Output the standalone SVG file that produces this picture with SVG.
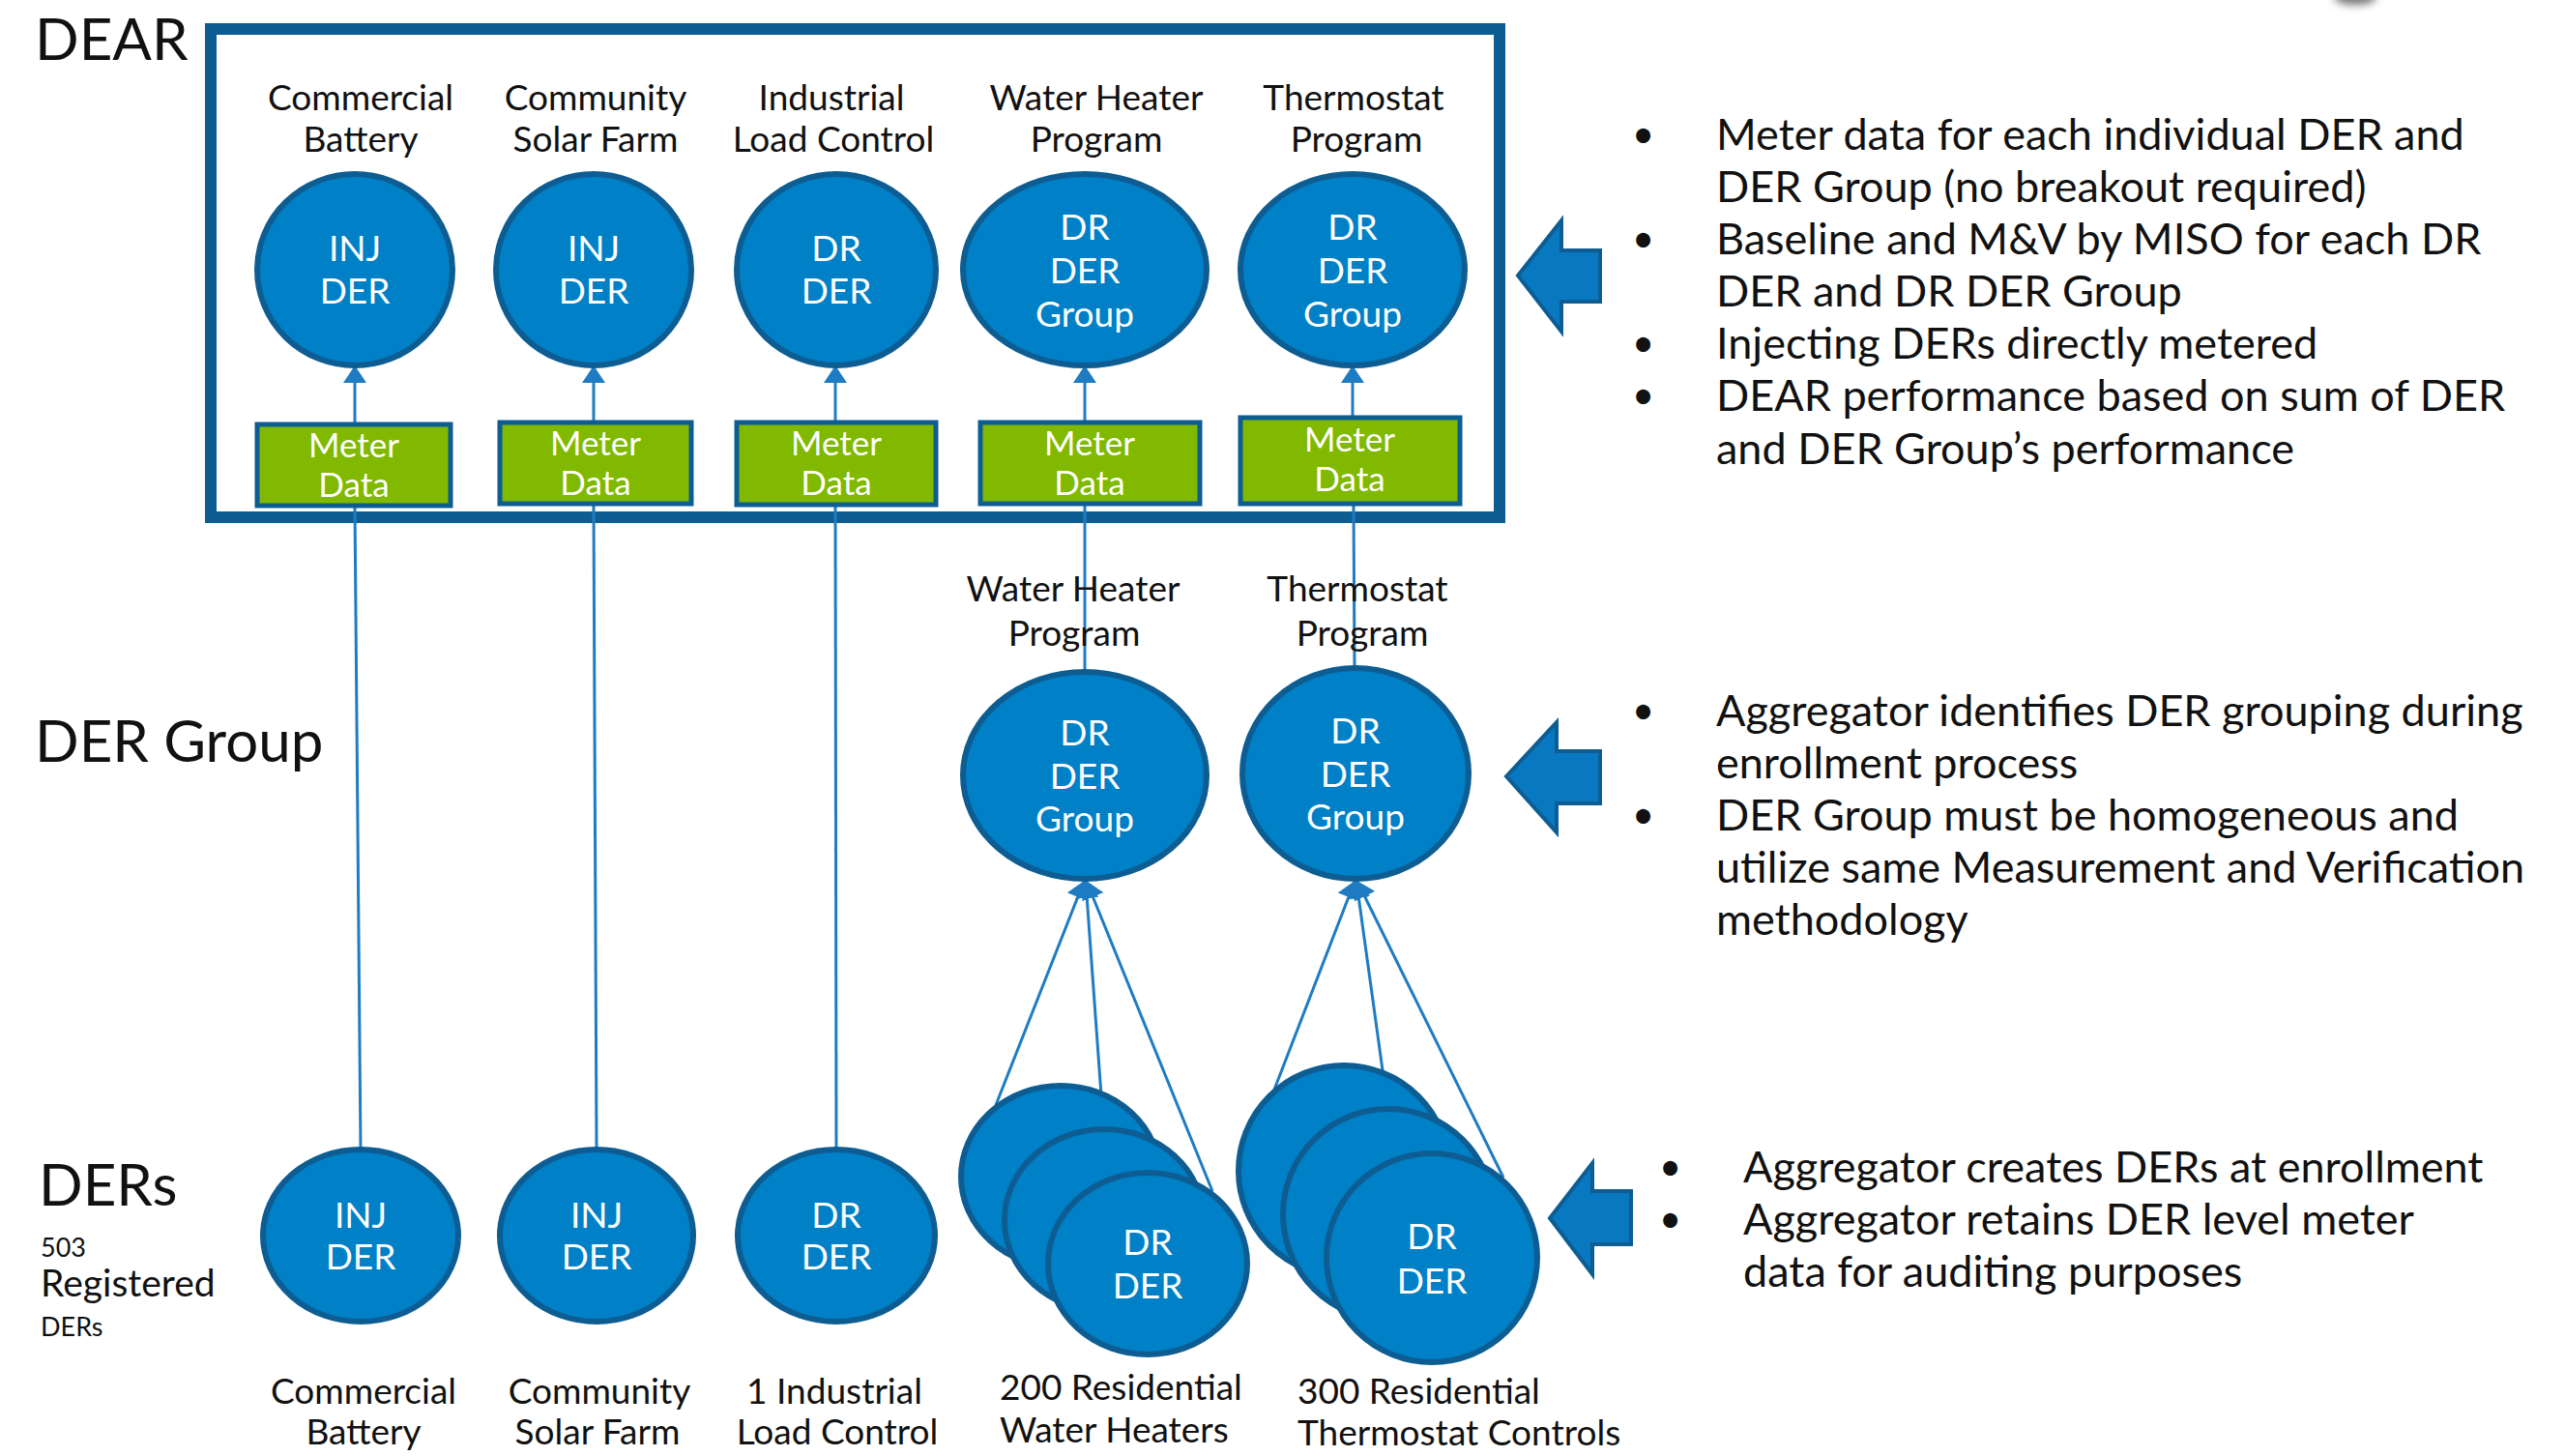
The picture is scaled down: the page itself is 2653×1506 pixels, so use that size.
<svg xmlns="http://www.w3.org/2000/svg" width="2653" height="1506" viewBox="0 0 2653 1506">
  <style>
    text { font-family: Lato, "Open Sans", "Liberation Sans", sans-serif; }
    .lbl { font-size: 37px; fill: #111; text-anchor: middle; }
    .lbl-l { font-size: 37px; fill: #111; }
    .big { font-size: 60px; fill: #111; }
    .node { fill: #0080c6; stroke: #0d5d93; stroke-width: 6; }
    .ntx { font-size: 37px; fill: #fff; text-anchor: middle; }
    .meter { fill: #80b900; stroke: #0d5d93; stroke-width: 5; }
    .mtx { font-size: 35px; fill: #fff; text-anchor: middle; }
    .link { stroke: #1f7cc2; stroke-width: 3; fill: none; }
    .note { font-size: 45px; fill: #111; }
    .dot { font-size: 40px; fill: #111; }
    .blk-arrow { fill: #0878c0; stroke: #0d5d93; stroke-width: 4; stroke-linejoin: miter; }
  </style>
  <defs>
    <marker id="tip" markerUnits="userSpaceOnUse" markerWidth="18" markerHeight="24" viewBox="0 0 18 24" refX="17" refY="12" orient="auto">
      <path d="M0,0 L18,12 L0,24 z" fill="#1f7cc2"/>
    </marker>
    <filter id="soft" x="-50%" y="-50%" width="200%" height="200%">
      <feGaussianBlur stdDeviation="4"/>
    </filter>
  </defs>

  <rect width="2653" height="1506" fill="#fff"/>

  <!-- faint grey shape at the top edge -->
  <ellipse cx="2436" cy="-3" rx="22" ry="8" fill="#777" filter="url(#soft)"/>

  <!-- section titles -->
  <g id="titles">
    <text class="big" x="36" y="62">DEAR</text>
    <text class="big" x="36" y="788">DER Group</text>
    <text class="big" x="40" y="1247">DERs</text>
    <text x="42" y="1300" style="font-size:27px;fill:#111">503</text>
    <text x="42" y="1341" style="font-size:39px;fill:#111">Registered</text>
    <text x="42" y="1382" style="font-size:27px;fill:#111">DERs</text>
  </g>

  <!-- DEAR container -->
  <rect id="dear-box" x="218" y="30" width="1333" height="505" fill="none" stroke="#0d5d93" stroke-width="12"/>

  <!-- connectors -->
  <g id="connectors">
    <!-- DER to meter data (plain lines) -->
    <line class="link" x1="373" y1="1189" x2="367" y2="523"/>
    <line class="link" x1="617" y1="1189" x2="614" y2="523"/>
    <line class="link" x1="865" y1="1189" x2="864" y2="523"/>
    <line class="link" x1="1122" y1="694" x2="1122" y2="523"/>
    <line class="link" x1="1401" y1="689" x2="1400" y2="523"/>
    <!-- meter data to DEAR members -->
    <line class="link" x1="367" y1="437" x2="367" y2="379" marker-end="url(#tip)"/>
    <line class="link" x1="614" y1="436" x2="614" y2="379" marker-end="url(#tip)"/>
    <line class="link" x1="864" y1="436" x2="864" y2="379" marker-end="url(#tip)"/>
    <line class="link" x1="1122" y1="436" x2="1122" y2="379" marker-end="url(#tip)"/>
    <line class="link" x1="1399" y1="431" x2="1399" y2="379" marker-end="url(#tip)"/>
    <!-- residential water heaters to group -->
    <line class="link" x1="1030" y1="1143" x2="1121" y2="912" marker-end="url(#tip)"/>
    <line class="link" x1="1139" y1="1133" x2="1123" y2="912" marker-end="url(#tip)"/>
    <line class="link" x1="1254" y1="1232" x2="1124" y2="912" marker-end="url(#tip)"/>
    <!-- residential thermostats to group -->
    <line class="link" x1="1318" y1="1127" x2="1401" y2="912" marker-end="url(#tip)"/>
    <line class="link" x1="1430" y1="1107" x2="1403" y2="912" marker-end="url(#tip)"/>
    <line class="link" x1="1555" y1="1218" x2="1404" y2="912" marker-end="url(#tip)"/>
  </g>

  <!-- DEAR level -->
  <g id="dear-commercial-battery">
    <text class="lbl" x="373" y="114">Commercial</text>
    <text class="lbl" x="373" y="157">Battery</text>
    <ellipse class="node" cx="367" cy="279" rx="101" ry="99"/>
    <text class="ntx" x="367" y="270">INJ</text>
    <text class="ntx" x="367" y="314">DER</text>
  </g>
  <g id="dear-community-solar">
    <text class="lbl" x="616" y="114">Community</text>
    <text class="lbl" x="616" y="157">Solar Farm</text>
    <ellipse class="node" cx="614" cy="279" rx="101" ry="99"/>
    <text class="ntx" x="614" y="270">INJ</text>
    <text class="ntx" x="614" y="314">DER</text>
  </g>
  <g id="dear-industrial">
    <text class="lbl" x="860" y="114">Industrial</text>
    <text class="lbl" x="862" y="157">Load Control</text>
    <ellipse class="node" cx="865" cy="279" rx="103" ry="99"/>
    <text class="ntx" x="865" y="270">DR</text>
    <text class="ntx" x="865" y="314">DER</text>
  </g>
  <g id="dear-water-heater">
    <text class="lbl" x="1134" y="114">Water Heater</text>
    <text class="lbl" x="1134" y="157">Program</text>
    <ellipse class="node" cx="1122" cy="279" rx="126" ry="99"/>
    <text class="ntx" x="1122" y="248">DR</text>
    <text class="ntx" x="1122" y="293">DER</text>
    <text class="ntx" x="1122" y="338">Group</text>
  </g>
  <g id="dear-thermostat">
    <text class="lbl" x="1400" y="114">Thermostat</text>
    <text class="lbl" x="1403" y="157">Program</text>
    <ellipse class="node" cx="1399" cy="279" rx="116" ry="99"/>
    <text class="ntx" x="1399" y="248">DR</text>
    <text class="ntx" x="1399" y="293">DER</text>
    <text class="ntx" x="1399" y="338">Group</text>
  </g>

  <!-- meter data boxes -->
  <g id="meter-1">
    <rect class="meter" x="266" y="439" width="200" height="84"/>
    <text class="mtx" x="366" y="473">Meter</text>
    <text class="mtx" x="366" y="514">Data</text>
  </g>
  <g id="meter-2">
    <rect class="meter" x="517" y="437" width="198" height="84"/>
    <text class="mtx" x="616" y="471">Meter</text>
    <text class="mtx" x="616" y="512">Data</text>
  </g>
  <g id="meter-3">
    <rect class="meter" x="762" y="437" width="206" height="85"/>
    <text class="mtx" x="865" y="471">Meter</text>
    <text class="mtx" x="865" y="512">Data</text>
  </g>
  <g id="meter-4">
    <rect class="meter" x="1014" y="437" width="227" height="84"/>
    <text class="mtx" x="1127" y="471">Meter</text>
    <text class="mtx" x="1127" y="512">Data</text>
  </g>
  <g id="meter-5">
    <rect class="meter" x="1283" y="432" width="227" height="89"/>
    <text class="mtx" x="1396" y="467">Meter</text>
    <text class="mtx" x="1396" y="508">Data</text>
  </g>

  <!-- DER Group level -->
  <g id="group-water-heater">
    <text class="lbl" x="1110" y="622">Water Heater</text>
    <text class="lbl" x="1111" y="668">Program</text>
    <ellipse class="node" cx="1122" cy="802" rx="126" ry="107"/>
    <text class="ntx" x="1122" y="771">DR</text>
    <text class="ntx" x="1122" y="816">DER</text>
    <text class="ntx" x="1122" y="860">Group</text>
  </g>
  <g id="group-thermostat">
    <text class="lbl" x="1404" y="622">Thermostat</text>
    <text class="lbl" x="1409" y="668">Program</text>
    <ellipse class="node" cx="1402" cy="800" rx="117" ry="109"/>
    <text class="ntx" x="1402" y="769">DR</text>
    <text class="ntx" x="1402" y="814">DER</text>
    <text class="ntx" x="1402" y="858">Group</text>
  </g>

  <!-- DER level -->
  <g id="der-commercial-battery">
    <ellipse class="node" cx="373" cy="1278" rx="101" ry="89"/>
    <text class="ntx" x="373" y="1270">INJ</text>
    <text class="ntx" x="373" y="1313">DER</text>
    <text class="lbl" x="376" y="1452">Commercial</text>
    <text class="lbl" x="376" y="1494">Battery</text>
  </g>
  <g id="der-community-solar">
    <ellipse class="node" cx="617" cy="1278" rx="100" ry="89"/>
    <text class="ntx" x="617" y="1270">INJ</text>
    <text class="ntx" x="617" y="1313">DER</text>
    <text class="lbl" x="620" y="1452">Community</text>
    <text class="lbl" x="618" y="1494">Solar Farm</text>
  </g>
  <g id="der-industrial">
    <ellipse class="node" cx="865" cy="1278" rx="102" ry="89"/>
    <text class="ntx" x="865" y="1270">DR</text>
    <text class="ntx" x="865" y="1313">DER</text>
    <text class="lbl" x="863" y="1452">1 Industrial</text>
    <text class="lbl" x="866" y="1494">Load Control</text>
  </g>
  <g id="der-water-heaters">
    <ellipse class="node" cx="1097" cy="1217" rx="103" ry="94"/>
    <ellipse class="node" cx="1142" cy="1262" rx="103" ry="94"/>
    <ellipse class="node" cx="1187" cy="1307" rx="103" ry="94"/>
    <text class="ntx" x="1187" y="1298">DR</text>
    <text class="ntx" x="1187" y="1343">DER</text>
    <text class="lbl-l" x="1034" y="1448">200 Residential</text>
    <text class="lbl-l" x="1034" y="1492">Water Heaters</text>
  </g>
  <g id="der-thermostats">
    <ellipse class="node" cx="1390" cy="1211" rx="109" ry="109"/>
    <ellipse class="node" cx="1436" cy="1256" rx="109" ry="109"/>
    <ellipse class="node" cx="1481" cy="1301" rx="109" ry="108"/>
    <text class="ntx" x="1481" y="1292">DR</text>
    <text class="ntx" x="1481" y="1338">DER</text>
    <text class="lbl-l" x="1342" y="1452">300 Residential</text>
    <text class="lbl-l" x="1342" y="1495">Thermostat Controls</text>
  </g>

  <!-- block arrows pointing at each level -->
  <g id="arrow-dear">
    <path class="blk-arrow" d="M1570,285 L1615,228 L1615,259 L1655,259 L1655,312 L1615,312 L1615,343 Z"/>
  </g>
  <g id="arrow-group">
    <path class="blk-arrow" d="M1558,803 L1610,747 L1610,777 L1655,777 L1655,831 L1610,831 L1610,861 Z"/>
  </g>
  <g id="arrow-ders">
    <path class="blk-arrow" d="M1603,1260 L1647,1203 L1647,1232 L1687,1232 L1687,1287 L1647,1287 L1647,1318 Z"/>
  </g>

  <!-- notes -->
  <g id="notes-dear">
    <text class="dot" x="1688" y="153">•</text>
    <text class="note" x="1775" y="155">Meter data for each individual DER and</text>
    <text class="note" x="1775" y="209">DER Group (no breakout required)</text>
    <text class="dot" x="1688" y="261">•</text>
    <text class="note" x="1775" y="263">Baseline and M&amp;V by MISO for each DR</text>
    <text class="note" x="1775" y="317">DER and DR DER Group</text>
    <text class="dot" x="1688" y="369">•</text>
    <text class="note" x="1775" y="371">Injecting DERs directly metered</text>
    <text class="dot" x="1688" y="423">•</text>
    <text class="note" x="1775" y="425">DEAR performance based on sum of DER</text>
    <text class="note" x="1775" y="480">and DER Group’s performance</text>
  </g>
  <g id="notes-group">
    <text class="dot" x="1688" y="749">•</text>
    <text class="note" x="1775" y="751">Aggregator identifies DER grouping during</text>
    <text class="note" x="1775" y="805">enrollment process</text>
    <text class="dot" x="1688" y="857">•</text>
    <text class="note" x="1775" y="859">DER Group must be homogeneous and</text>
    <text class="note" x="1775" y="913">utilize same Measurement and Verification</text>
    <text class="note" x="1775" y="967">methodology</text>
  </g>
  <g id="notes-ders">
    <text class="dot" x="1716" y="1221">•</text>
    <text class="note" x="1803" y="1223">Aggregator creates DERs at enrollment</text>
    <text class="dot" x="1716" y="1275">•</text>
    <text class="note" x="1803" y="1277">Aggregator retains DER level meter</text>
    <text class="note" x="1803" y="1331">data for auditing purposes</text>
  </g>
</svg>
